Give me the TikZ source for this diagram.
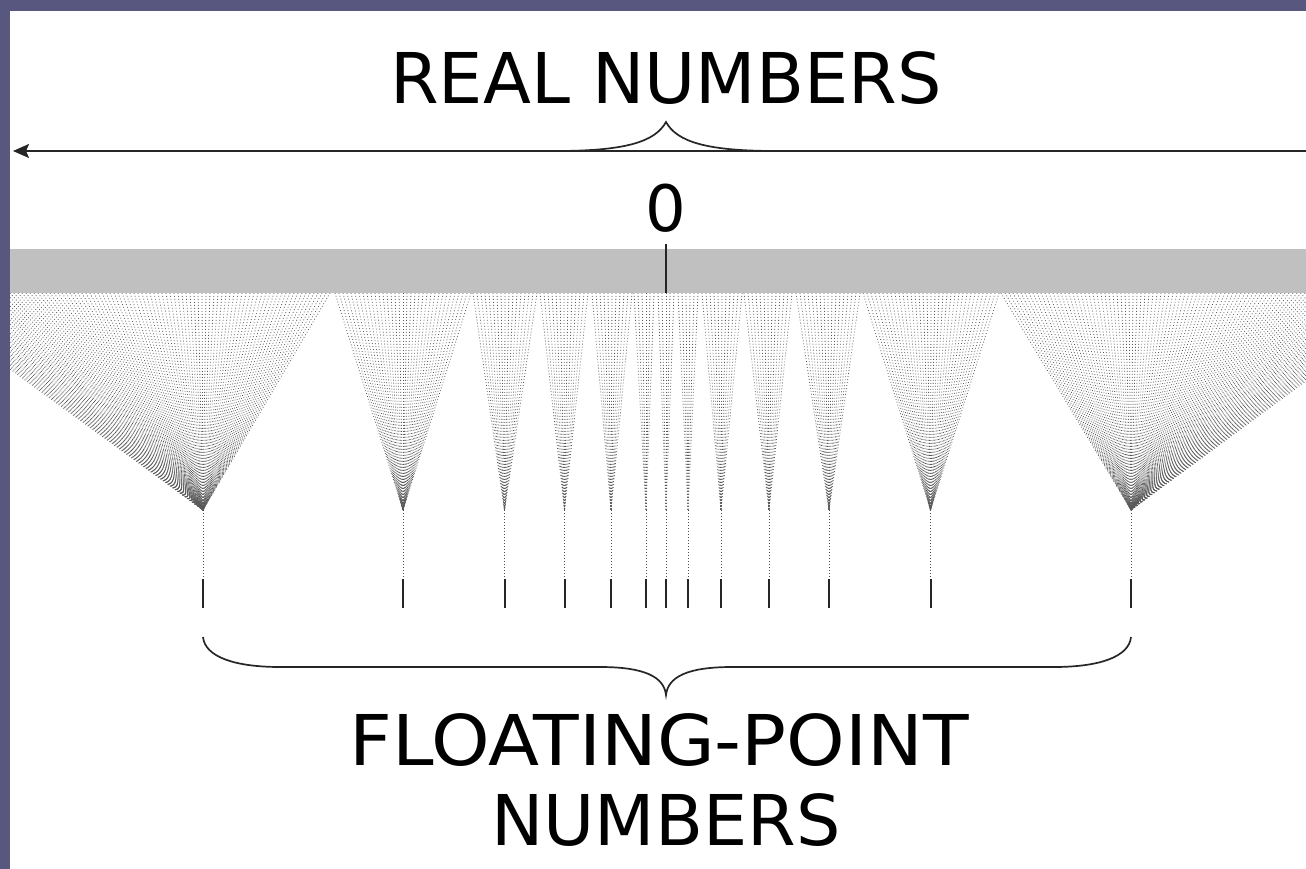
\documentclass[tikz,border=0pt]{standalone}
\usepackage{fontspec}
\newfontfamily\labfont{DejaVu Sans}
\newfontfamily\widefont[FakeStretch=1.065]{DejaVu Sans}
\usetikzlibrary{arrows.meta}
\definecolor{framecol}{RGB}{88,87,128}
\definecolor{barcol}{RGB}{192,192,192}
\begin{document}
\begin{tikzpicture}[x=1pt,y=-1pt,
  fanline/.style={line width=0.8pt, black!65, dash pattern=on 0.8pt off 2.2pt},
  stemline/.style={line width=0.8pt, black!70, dash pattern=on 0.8pt off 2.2pt},
  tickline/.style={line width=2pt, black!85},
  curveline/.style={line width=1.7pt, black!85},
  biglabel/.style={font=\labfont\fontsize{70}{80}\selectfont, inner sep=0pt, anchor=base},
  widelabel/.style={font=\widefont\fontsize{70}{80}\selectfont, inner sep=0pt, anchor=base},
  zerolabel/.style={font=\labfont\fontsize{64}{70}\selectfont, inner sep=0pt, anchor=base}]
\useasboundingbox (0,0) rectangle (1306,869);
\fill[framecol] (0,0) rectangle (1306,869);
\fill[white] (10,11) rectangle (1306,869);

% real number line
\coordinate (L) at (13,151);
\coordinate (R) at (1306,151);
\draw[curveline, {Stealth[length=16pt,width=14pt,inset=3pt]}-] (L) -- (R);
\draw[curveline] (556,151) .. controls (625,151) and (655,142) .. (666,122)
                 .. controls (677,142) and (707,151) .. (776,151);
\node[biglabel] (real) at (666,104) {REAL NUMBERS};
\node[zerolabel] (zero) at (666,231) {0};

% grey bar
\fill[barcol] (10,249) rectangle (1306,293);
\draw[tickline] (666,244) -- (666,293);

% fans
\begin{scope}
\clip (10,293) rectangle (1306,869);
\foreach \ax/\a/\b in {203/-96/333, 403/333/471, 504.5/471/538, 564.5/538/590,
    611/590/632, 646/632/656, 666/656/676, 688/676/700, 721/700/742,
    769/742/794, 829/794/861, 930.5/861/999, 1131/999/1428} {
  \pgfmathsetmacro\sA{\a+2}
  \pgfmathsetmacro\sB{\a+6}
  \foreach \t in {\sA,\sB,...,\b} {
    \draw[fanline] (\t,293) -- (\ax,510);
  }
  \draw[stemline] (\ax,510) -- (\ax,578);
  \draw[tickline] (\ax,579) -- (\ax,608);
}
\end{scope}

% bottom brace
\draw[curveline] (203,637) .. controls (205,657) and (235,667) .. (280,667) -- (600,667)
   .. controls (645,667) and (664,677) .. (666,695)
   .. controls (668,677) and (687,667) .. (732,667) -- (1054,667)
   .. controls (1099,667) and (1129,657) .. (1131,637);

\node[widelabel] (fp) at (659,765) {FLOATING-POINT};
\node[biglabel] (nums) at (666,845) {NUMBERS};
\end{tikzpicture}
\end{document}
